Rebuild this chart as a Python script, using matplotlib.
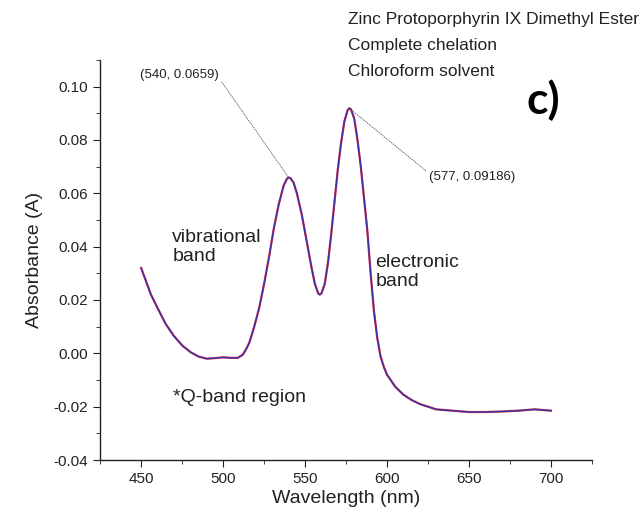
import matplotlib.pyplot as plt
import numpy as np

plt.rcParams['font.family'] = ['Liberation Sans', 'DejaVu Sans']

# spectrum
wavelength = [450, 453, 456, 460, 465, 470, 475, 480, 485, 490, 495, 500, 505, 509,
              512, 514, 516, 519, 522, 525, 528, 531, 534, 537, 539, 540, 541, 543, 545,
              548, 551, 554, 556, 558, 559, 560, 562, 564, 566, 568, 570, 572, 574,
              576, 577, 578, 580, 582, 584, 586, 588, 590, 592, 594, 596, 598, 600,
              605, 610, 615, 620, 625, 630, 640, 650, 660, 670, 680, 690, 700]
absorbance = [0.032, 0.027, 0.022, 0.017, 0.011, 0.0065, 0.003, 0.0005, -0.0012, -0.002,
              -0.0018, -0.0015, -0.0017, -0.0017, -0.0005, 0.0015, 0.004, 0.010, 0.017,
              0.026, 0.036, 0.047, 0.056, 0.063, 0.0655, 0.0659, 0.0657, 0.064, 0.060,
              0.052, 0.042, 0.032, 0.026, 0.0225, 0.022, 0.0225, 0.026, 0.034, 0.045,
              0.057, 0.069, 0.079, 0.087, 0.0912, 0.09186, 0.0915, 0.088, 0.080, 0.070,
              0.058, 0.046, 0.030, 0.016, 0.006, -0.001, -0.005, -0.008, -0.0125, -0.0155,
              -0.0175, -0.019, -0.020, -0.021, -0.0215, -0.022, -0.022, -0.0218, -0.0215,
              -0.021, -0.0215]

peaks_x = [540, 577]
peaks_y = [0.0659, 0.09186]
peak_labels = ['(540, 0.0659)', '(577, 0.09186)']

txt = '#222222'

fig = plt.figure(figsize=(6.42, 5.21), dpi=100)
ax = fig.add_axes([0.156, 0.117, 0.766, 0.768])

ax.plot(wavelength, absorbance, color='#d0304a', lw=1.6)
ax.plot(wavelength, absorbance, color='#3030b0', lw=1.0, alpha=0.9)

ax.set_xlim(425, 725)
ax.set_ylim(-0.04, 0.11)
ax.set_xticks([450, 500, 550, 600, 650, 700])
ax.set_xticks(np.arange(425, 726, 25), minor=True)
ax.set_yticks(np.arange(-0.04, 0.101, 0.02))
ax.set_yticks(np.arange(-0.04, 0.111, 0.01), minor=True)
ax.set_yticklabels(['%.2f' % v for v in np.arange(-0.04, 0.101, 0.02)])

for s in ['top', 'right']:
    ax.spines[s].set_visible(False)
for s in ['left', 'bottom']:
    ax.spines[s].set_color(txt)
    ax.spines[s].set_linewidth(1.0)
ax.tick_params(which='major', length=5, color=txt, labelsize=11, labelcolor=txt)
ax.tick_params(which='minor', length=3, color=txt)

ax.set_xlabel('Wavelength (nm)', fontsize=14, color=txt, labelpad=3)
ax.set_ylabel('Absorbance (A)', fontsize=14, color=txt, labelpad=8)

# peak annotations
ax.annotate(peak_labels[0], xy=(peaks_x[0], peaks_y[0]), xytext=(449.5, 0.1045),
            fontsize=9.5, color=txt, va='center', ha='left',
            arrowprops=dict(arrowstyle='-', color='#555555', lw=0.6, ls=':',
                            shrinkA=0, shrinkB=0, relpos=(1.0, 0.2)))
ax.annotate(peak_labels[1], xy=(peaks_x[1], peaks_y[1]), xytext=(625.5, 0.0662),
            fontsize=9.5, color=txt, va='center', ha='left',
            arrowprops=dict(arrowstyle='-', color='#555555', lw=0.6, ls=':',
                            shrinkA=0, shrinkB=0, relpos=(0.0, 0.8)))

ax.text(469, 0.0398, 'vibrational\nband', fontsize=14, color=txt, va='center', ha='left',
        linespacing=1.2)
ax.text(593, 0.0305, 'electronic\nband', fontsize=14, color=txt, va='center', ha='left',
        linespacing=1.2)
ax.text(469.5, -0.0167, '*Q-band region', fontsize=14, color=txt, va='center', ha='left')

fig.text(0.542, 0.962, 'Zinc Protoporphyrin IX Dimethyl Ester', fontsize=12.5, color=txt,
         va='center', ha='left')
fig.text(0.542, 0.913, 'Complete chelation', fontsize=12.5, color=txt, va='center', ha='left')
fig.text(0.542, 0.862, 'Chloroform solvent', fontsize=12.5, color=txt, va='center', ha='left')
fig.text(0.820, 0.808, 'c)', fontsize=32, fontweight='bold', color='black', va='center',
         ha='left', family=['Lato', 'DejaVu Sans'])

plt.savefig('out.png', dpi=100)
plt.close()
